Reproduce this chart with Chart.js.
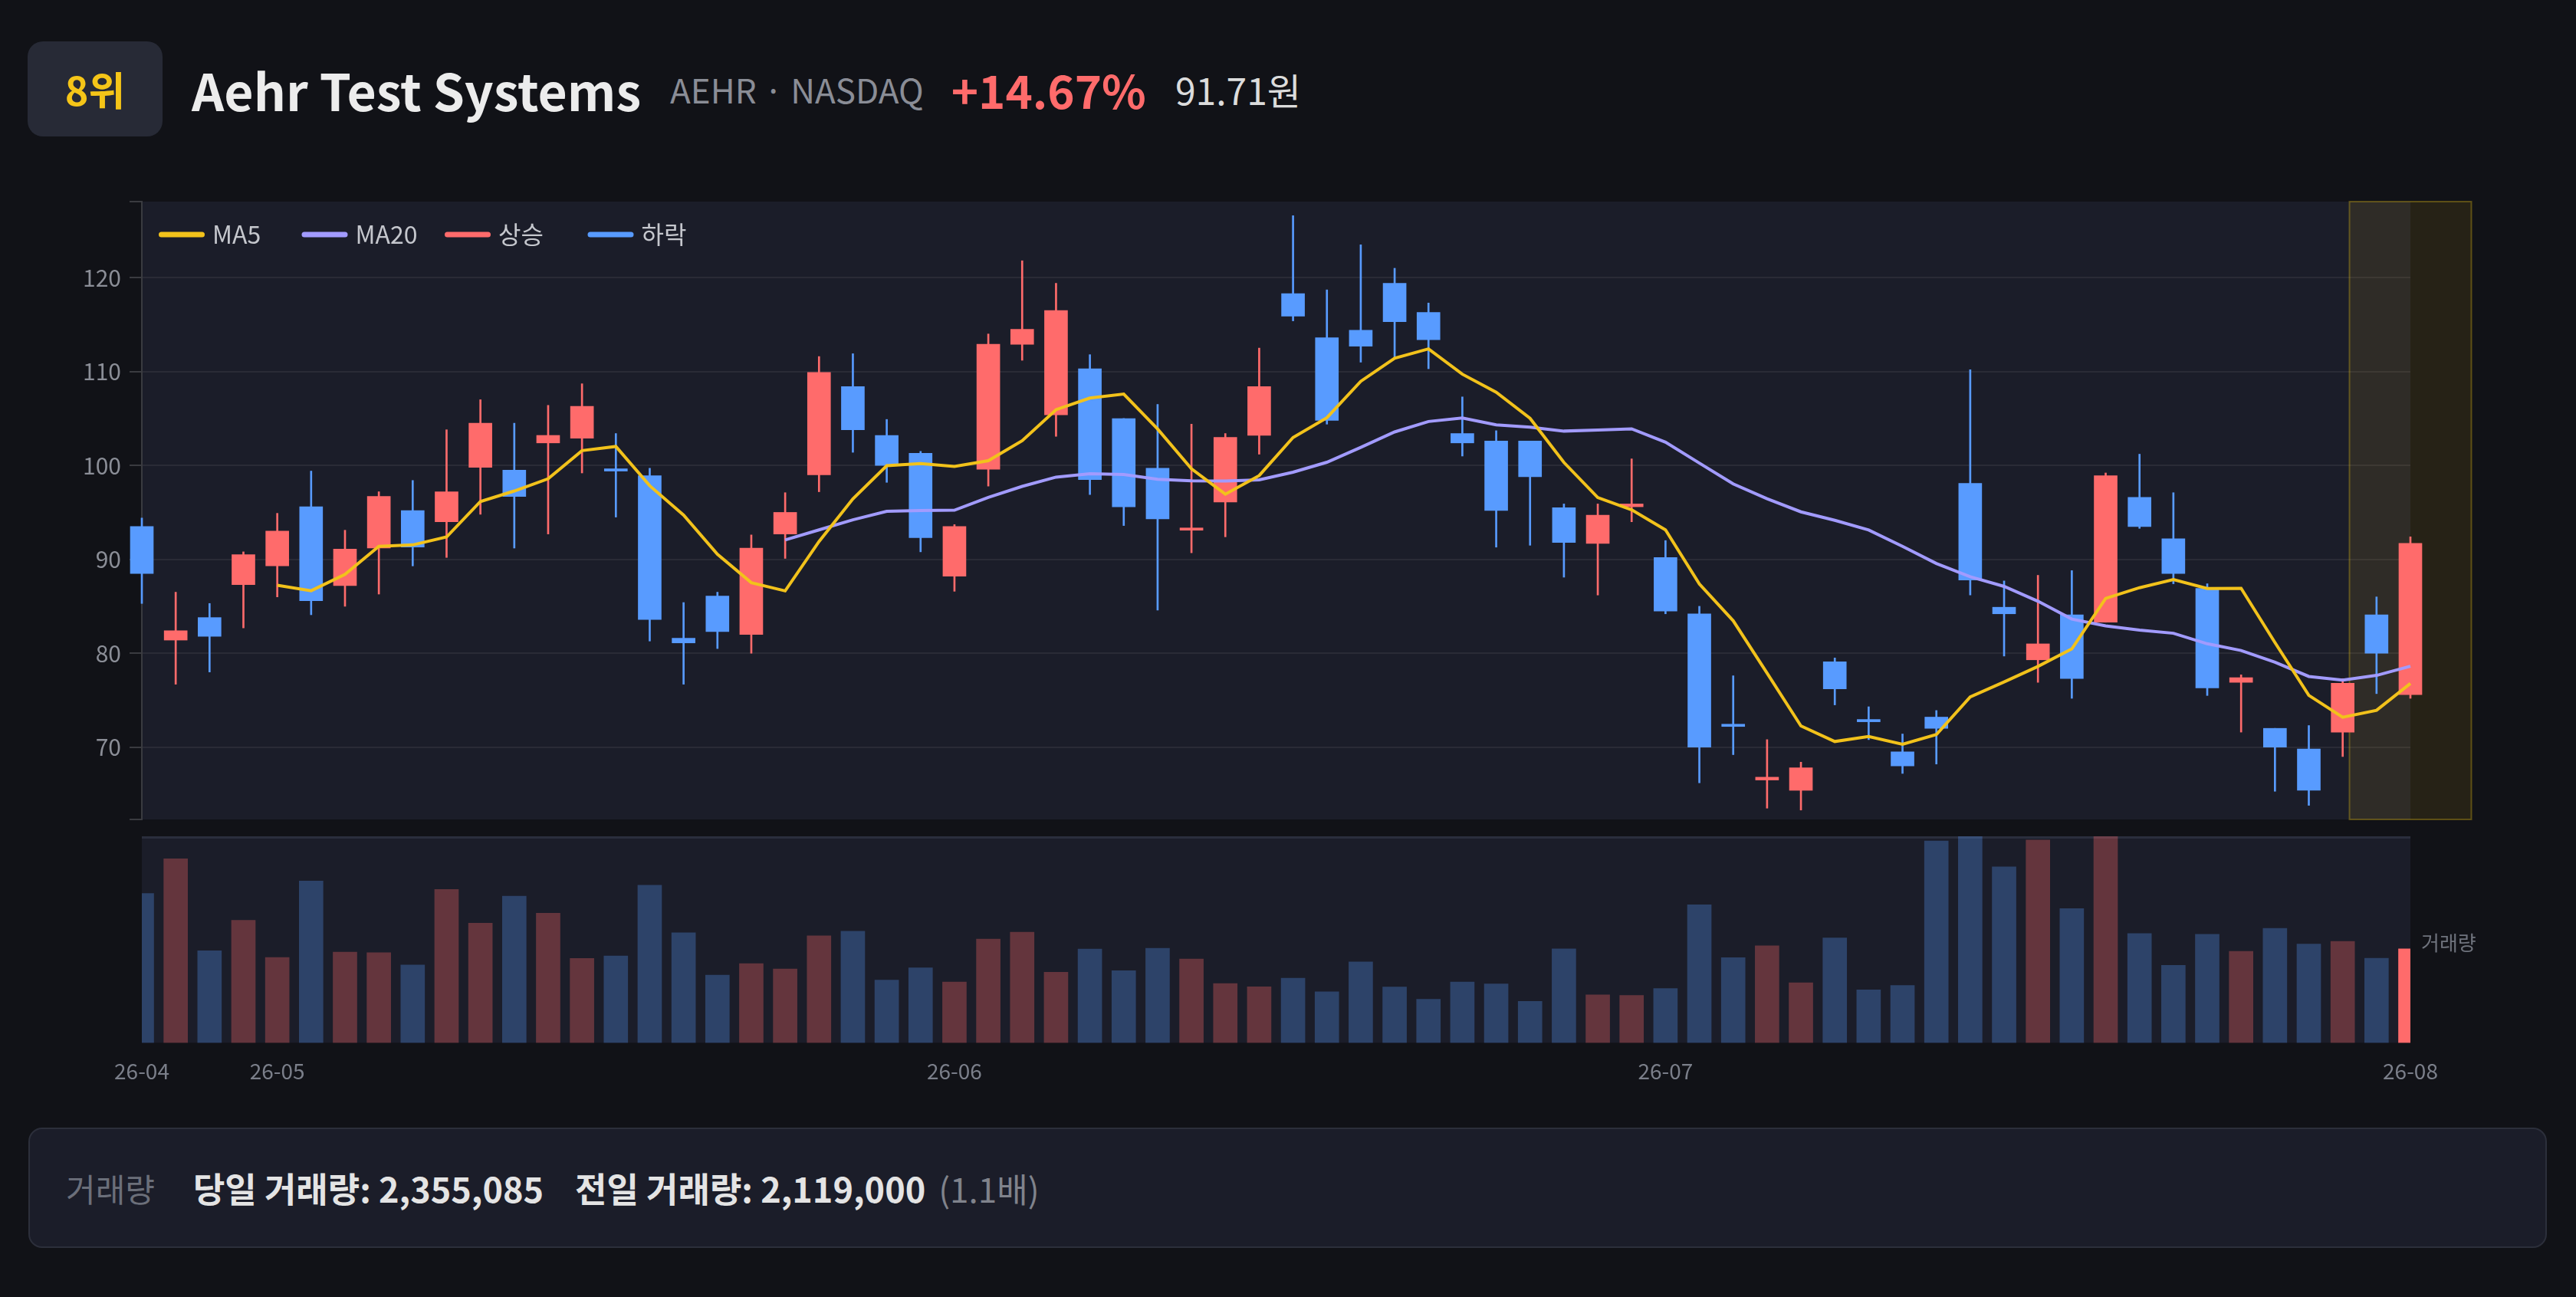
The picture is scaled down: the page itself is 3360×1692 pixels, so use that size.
<!DOCTYPE html>
<html><head><meta charset="UTF-8">
<title>Aehr Test Systems</title>
<script src="https://cdn.jsdelivr.net/npm/chart.js@4.4.0/dist/chart.umd.min.js"></script>
<style>
  html, body { margin: 0; padding: 0; }
  body {
    width: 3360px; height: 1692px; overflow: hidden;
    background: #111217;
    font-family: 'Noto Sans CJK KR', 'Noto Sans', sans-serif;
    position: relative;
  }
  .header {
    position: absolute; left: 36px; top: 54px; height: 124px;
    display: flex; align-items: center; line-height: 1;
  }
  .badge {
    width: 176px; height: 124px; border-radius: 20px; background: #272a36;
    color: #f5c518; font-weight: 700; font-size: 52px;
    display: flex; align-items: center; justify-content: center;
  }
  .title { margin-left: 38px; font-size: 66px; font-weight: 700; color: #ececec; }
  .ticker { margin-left: 38px; font-size: 44px; color: #8a8d96; }
  .pct { margin-left: 36px; font-size: 60px; font-weight: 700; color: #ff6b6b; }
  .price { margin-left: 38px; font-size: 48px; color: #dcdcdc; }
  .box { position: absolute; left: 36px; width: 3288px; }
  .footer {
    position: absolute; left: 37px; top: 1471px; width: 3285px; height: 157px;
    box-sizing: border-box; border: 2px solid #2c2f3b; border-radius: 18px;
    background: #1b1d29; display: flex; align-items: center; padding-left: 47px;
    line-height: 1;
  }
  .f-label { font-size: 42px; color: #6b6f7a; margin-right: 50px; }
  .f-val { font-size: 45px; font-weight: 700; color: #e4e4e4; margin-right: 41px; }
  .f-val.last { margin-right: 17px; }
  .f-ratio { font-size: 44px; color: #80838c; }
</style>
</head>
<body>
  <div class="header">
    <div class="badge">8위</div>
    <div class="title">Aehr Test Systems</div>
    <div class="ticker">AEHR · NASDAQ</div>
    <div class="pct">+14.67%</div>
    <div class="price">91.71원</div>
  </div>

  <div class="box" style="top:234px;height:864px"><canvas id="price"></canvas></div>
  <div class="box" style="top:1081px;height:363px"><canvas id="volume"></canvas></div>

  <div class="footer">
    <span class="f-label">거래량</span>
    <span class="f-val">당일 거래량: 2,355,085</span>
    <span class="f-val last">전일 거래량: 2,119,000</span>
    <span class="f-ratio">(1.1배)</span>
  </div>

<script>
// month ticks shown under the volume panel
const monthLabels = ['26-04', '26-05', '26-06', '26-07', '26-08'];
const monthStarts = [0, 4, 24, 45, 67];

const opens = [93.5, 81.4, 83.8, 87.3, 89.3, 95.6, 87.2, 91.2, 95.2, 94.0,
  99.8, 99.5, 102.4, 102.9, 99.6, 98.9, 81.6, 86.1, 82.0, 92.7,
  99.0, 108.4, 103.2, 101.3, 88.2, 99.6, 112.9, 105.4, 110.3, 105.0,
  99.7, 93.1, 96.1, 103.2, 118.3, 113.6, 114.4, 119.4, 116.3, 103.4,
  102.6, 102.6, 95.5, 91.7, 95.6, 90.2, 84.2, 72.4, 66.5, 65.4,
  79.1, 72.9, 69.5, 73.2, 98.1, 84.9, 79.3, 84.1, 83.3, 96.6,
  92.2, 86.9, 76.9, 72.0, 69.8, 71.6, 84.1, 75.6];
const highs = [94.4, 86.5, 85.3, 90.8, 94.9, 99.4, 93.1, 97.2, 98.4, 103.8,
  107.0, 104.5, 106.4, 108.7, 103.4, 99.7, 85.4, 86.5, 92.6, 97.1,
  111.6, 111.9, 104.9, 101.5, 93.7, 114.0, 121.8, 119.4, 111.8, 105.0,
  106.5, 104.4, 103.4, 112.5, 126.6, 118.7, 123.5, 121.0, 117.3, 107.3,
  103.7, 102.6, 95.9, 95.9, 100.7, 92.0, 85.0, 77.6, 70.8, 68.4,
  79.5, 74.3, 71.4, 73.9, 110.2, 87.7, 88.3, 88.8, 99.2, 101.2,
  97.1, 87.4, 77.7, 72.0, 72.3, 77.3, 86.0, 92.4];
const lows = [85.3, 76.7, 78.0, 82.7, 86.0, 84.1, 85.0, 86.3, 89.3, 90.2,
  94.8, 91.2, 92.7, 99.2, 94.5, 81.3, 76.7, 80.5, 80.0, 90.1,
  97.2, 101.4, 98.2, 90.8, 86.6, 97.8, 111.2, 103.1, 96.9, 93.6,
  84.6, 90.7, 92.4, 101.2, 115.4, 104.4, 111.0, 111.5, 110.3, 101.0,
  91.3, 91.5, 88.1, 86.2, 94.0, 84.2, 66.2, 69.2, 63.5, 63.3,
  74.5, 70.8, 67.2, 68.2, 86.2, 79.7, 76.9, 75.2, 83.3, 93.3,
  87.4, 75.5, 71.6, 65.3, 63.8, 69.0, 75.7, 75.2];
const closes = [88.5, 82.4, 81.8, 90.5, 93.0, 85.6, 91.1, 96.7, 91.3, 97.2,
  104.5, 96.7, 103.2, 106.3, 99.4, 83.6, 81.1, 82.3, 91.2, 95.0,
  109.9, 103.8, 100.0, 92.3, 93.5, 112.9, 114.5, 116.5, 98.5, 95.6,
  94.3, 93.3, 103.0, 108.4, 115.9, 104.8, 112.7, 115.3, 113.4, 102.4,
  95.2, 98.8, 91.8, 94.7, 95.9, 84.5, 70.0, 72.2, 66.8, 67.8,
  76.2, 72.7, 68.0, 72.0, 87.8, 84.2, 81.0, 77.3, 98.9, 93.5,
  88.5, 76.3, 77.4, 70.0, 65.4, 76.8, 80.0, 91.71];
const ma5 = [null, null, null, null, 87.24, 86.66, 88.40, 91.38, 91.54, 92.38,
  96.16, 97.28, 98.58, 101.58, 102.02, 97.84, 94.72, 90.54, 87.52, 86.64,
  91.90, 96.44, 99.98, 100.20, 99.90, 100.50, 102.64, 105.94, 107.18, 107.60,
  103.88, 99.64, 96.94, 98.92, 102.98, 105.08, 108.96, 111.42, 112.42, 109.72,
  107.80, 105.02, 100.32, 96.58, 95.28, 93.14, 87.38, 83.46, 77.88, 72.26,
  70.60, 71.14, 70.30, 71.34, 75.34, 76.94, 78.60, 80.46, 85.84, 86.98,
  87.84, 86.90, 86.92, 81.14, 75.52, 73.18, 73.92, 76.78];
const ma20 = [null, null, null, null, null, null, null, null, null, null,
  null, null, null, null, null, null, null, null, null, 92.07,
  93.14, 94.21, 95.12, 95.21, 95.24, 96.60, 97.77, 98.76, 99.12, 99.04,
  98.53, 98.36, 98.35, 98.46, 99.28, 100.34, 101.92, 103.57, 104.68, 105.05,
  104.32, 104.07, 103.66, 103.78, 103.90, 102.48, 100.25, 98.04, 96.45, 95.06,
  94.16, 93.13, 91.38, 89.56, 88.15, 87.12, 85.54, 83.64, 82.91, 82.47,
  82.13, 81.01, 80.29, 79.05, 77.53, 77.14, 77.64, 78.62];
const volumes = [3745000, 4614000, 2307000, 3074000, 2141000, 4058000, 2275000, 2262000, 1955000, 3847000,
  3003000, 3681000, 3253000, 2115000, 2179000, 3955000, 2760000, 1700000, 1987000, 1853000,
  2684000, 2799000, 1572000, 1879000, 1527000, 2601000, 2773000, 1770000, 2352000, 1808000,
  2371000, 2102000, 1489000, 1406000, 1623000, 1278000, 2032000, 1399000, 1093000, 1527000,
  1476000, 1042000, 2358000, 1201000, 1189000, 1361000, 3463000, 2134000, 2435000, 1508000,
  2633000, 1329000, 1438000, 5061000, 5176000, 4415000, 5086000, 3368000, 5600000, 2741000,
  1943000, 2722000, 2294000, 2869000, 2479000, 2543000, 2119000, 2355085];

const legendNames = ['MA5', 'MA20', '상승', '하락'];

const UP = '#ff6b6b', DOWN = '#589bff', MA5C = '#f2c21b', MA20C = '#a29bfe';
const FONT = "'Noto Sans CJK KR', 'Noto Sans', sans-serif";
Chart.defaults.font.family = FONT;

const days = closes.map((_, i) => i);
const candleColors = closes.map((c, i) => c >= opens[i] ? UP : DOWN);
const volColors = closes.map((c, i) => {
  if (i === closes.length - 1) return UP;
  return c >= opens[i] ? 'rgba(255,107,107,0.32)' : 'rgba(88,155,255,0.3)';
});
const isRound = v => Math.abs(v % 10) < 1e-6;

// dark plot background (and the thin top rule on the volume panel)
const plotBg = {
  id: 'plotBg',
  beforeDraw(chart, args, opts) {
    const { ctx, chartArea: a } = chart;
    ctx.save();
    ctx.fillStyle = '#1b1d29';
    ctx.fillRect(a.left, a.top, a.right - a.left, a.bottom - a.top);
    if (opts.topRule) {
      ctx.fillStyle = '#2a2e3d';
      ctx.fillRect(a.left, a.top, a.right - a.left, 3);
    }
    ctx.restore();
  }
};

// yellow box around the latest session
const lastBox = {
  id: 'lastBox',
  beforeDatasetsDraw(chart) {
    const { ctx, chartArea: a, scales } = chart;
    const x = scales.x;
    const step = x.getPixelForValue(1) - x.getPixelForValue(0);
    const cx = x.getPixelForValue(closes.length - 1);
    const half = step * 1.8;
    ctx.save();
    ctx.fillStyle = 'rgba(250,204,21,0.09)';
    ctx.fillRect(cx - half, a.top, half * 2, a.bottom - a.top);
    ctx.strokeStyle = 'rgba(250,204,21,0.3)';
    ctx.lineWidth = 2;
    ctx.strokeRect(cx - half, a.top, half * 2, a.bottom - a.top);
    ctx.restore();
  }
};

// legend drawn inside the plot, fixed-width columns
const insideLegend = {
  id: 'insideLegend',
  afterDraw(chart) {
    const { ctx, chartArea: a } = chart;
    const colors = [MA5C, MA20C, UP, DOWN];
    ctx.save();
    ctx.font = '32px ' + FONT;
    ctx.textBaseline = 'middle';
    legendNames.forEach((name, k) => {
      const x = a.left + 22 + k * 186.5;
      const y = a.top + 43;
      ctx.fillStyle = colors[k];
      ctx.beginPath();
      ctx.roundRect(x, y - 3.5, 60, 7, 3.5);
      ctx.fill();
      ctx.fillStyle = '#c5c7cd';
      ctx.fillText(name, x + 70, y);
    });
    ctx.restore();
  }
};

new Chart(document.getElementById('price'), {
  type: 'bar',
  data: {
    labels: days,
    datasets: [
      { type: 'line', label: 'MA5', data: ma5, borderColor: MA5C, borderWidth: 4,
        pointRadius: 0, tension: 0, order: 0 },
      { type: 'line', label: 'MA20', data: ma20, borderColor: MA20C, borderWidth: 4,
        pointRadius: 0, tension: 0, order: 1 },
      { type: 'bar', label: 'body', data: opens.map((o, i) => [o, closes[i]]),
        backgroundColor: candleColors, barThickness: 30, grouped: false,
        minBarLength: 3, clip: false, order: 2 },
      { type: 'bar', label: 'wick', data: lows.map((l, i) => [l, highs[i]]),
        backgroundColor: candleColors, barThickness: 2, grouped: false,
        clip: false, order: 3 }
    ]
  },
  options: {
    responsive: true,
    maintainAspectRatio: false,
    animation: false,
    layout: { padding: { top: 20, right: 180, bottom: 20, left: 0 } },
    plugins: { legend: { display: false }, tooltip: { enabled: false } },
    scales: {
      x: { type: 'category', offset: false, display: false },
      y: {
        min: 62.3, max: 128.1,
        afterFit(s) { s.width = 149; },
        border: { color: '#3a3b40', width: 2 },
        grid: {
          color: c => (c.tick && isRound(c.tick.value) ? '#2a2b36' : 'rgba(0,0,0,0)'),
          lineWidth: 2, tickColor: '#3a3b40', tickLength: 16
        },
        ticks: {
          stepSize: 10, color: '#8b8e97', padding: 11,
          font: { size: 30 },
          callback: v => (isRound(v) ? v : '')
        }
      }
    }
  },
  plugins: [plotBg, lastBox, insideLegend]
});

const volLabel = {
  id: 'volLabel',
  afterDraw(chart) {
    const { ctx, chartArea: a } = chart;
    ctx.save();
    ctx.font = '26px ' + FONT;
    ctx.fillStyle = '#6f737d';
    ctx.textBaseline = 'middle';
    ctx.fillText('거래량', a.right + 14, (a.top + a.bottom) / 2 + 4);
    ctx.restore();
  }
};

new Chart(document.getElementById('volume'), {
  type: 'bar',
  data: {
    labels: days,
    datasets: [{ label: '거래량', data: volumes, backgroundColor: volColors, barThickness: 31 }]
  },
  options: {
    responsive: true,
    maintainAspectRatio: false,
    animation: false,
    layout: { padding: { top: 10, right: 180, bottom: 10, left: 0 } },
    plugins: { legend: { display: false }, tooltip: { enabled: false }, plotBg: { topRule: true } },
    scales: {
      x: {
        type: 'category', offset: false,
        grid: { display: false, drawTicks: false },
        border: { display: false },
        ticks: {
          autoSkip: false, maxRotation: 0, color: '#7b7f8a', padding: 20,
          font: { size: 28 },
          callback: (v, i) => {
            const k = monthStarts.indexOf(i);
            return k >= 0 ? monthLabels[k] : '';
          }
        }
      },
      y: {
        min: 0, max: 5180000,
        afterFit(s) { s.width = 149; },
        grid: { display: false, drawTicks: false },
        border: { display: false },
        ticks: { display: false }
      }
    }
  },
  plugins: [plotBg, volLabel]
});
</script>
</body></html>
